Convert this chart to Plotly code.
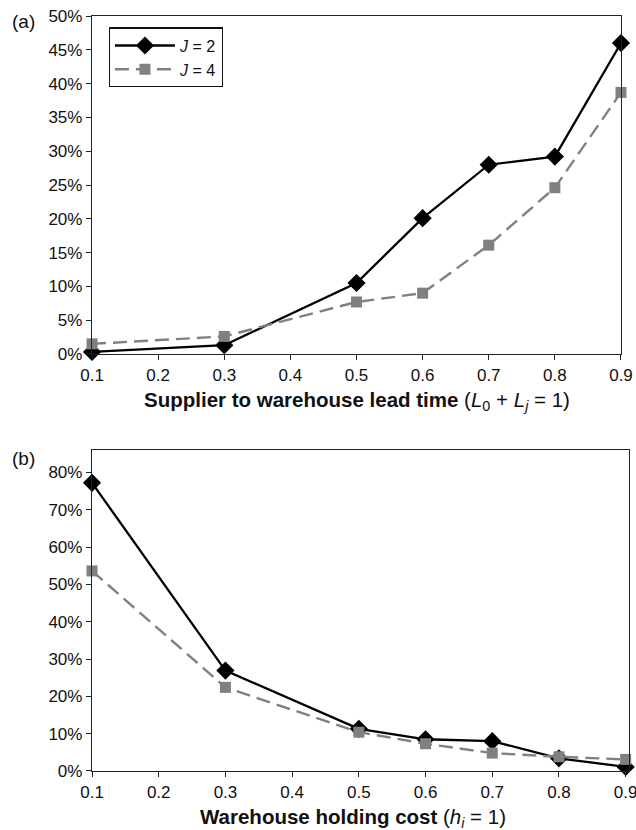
import plotly.graph_objects as go

x_vals = [0.1, 0.3, 0.5, 0.6, 0.7, 0.8, 0.9]

# Panel (a): Supplier to warehouse lead time
a_j2 = [0.3, 1.3, 10.5, 20.1, 28.0, 29.2, 46.0]
a_j4 = [1.5, 2.6, 7.7, 9.0, 16.1, 24.6, 38.7]

# Panel (b): Warehouse holding cost
b_j2 = [77.2, 26.9, 11.3, 8.5, 8.0, 3.4, 1.1]
b_j4 = [53.6, 22.4, 10.4, 7.3, 4.8, 3.8, 3.1]

x_ticks = [0.1, 0.2, 0.3, 0.4, 0.5, 0.6, 0.7, 0.8, 0.9]
a_yticks = [0, 5, 10, 15, 20, 25, 30, 35, 40, 45, 50]
b_yticks = [0, 10, 20, 30, 40, 50, 60, 70, 80]

FONT = "Liberation Sans, Arial, Helvetica, sans-serif"
BLACK = "#000000"
GRAY = "#808080"
TXT = "#111111"

fig = go.Figure()

def add_pair(xa, ya, j2, j4, show):
    fig.add_trace(go.Scatter(
        x=x_vals, y=j2, xaxis=xa, yaxis=ya, mode="lines+markers",
        name="<i>J</i> = 2", showlegend=show, cliponaxis=False,
        line=dict(color=BLACK, width=2.3),
        marker=dict(symbol="diamond", size=14, color=BLACK)))
    fig.add_trace(go.Scatter(
        x=x_vals, y=j4, xaxis=xa, yaxis=ya, mode="lines+markers",
        name="<i>J</i> = 4", showlegend=show, cliponaxis=False,
        line=dict(color=GRAY, width=2.4, dash="14px,7px"),
        marker=dict(symbol="square", size=11, color=GRAY)))

add_pair("x", "y", a_j2, a_j4, True)
add_pair("x2", "y2", b_j2, b_j4, False)

axis_common = dict(
    showline=True, linecolor="#222222", linewidth=1.4, mirror=True,
    ticks="outside", ticklen=5, tickcolor="#222222", tickwidth=1.2,
    showgrid=False, zeroline=False, automargin=False,
    ticklabeloverflow="allow",
    tickfont=dict(family=FONT, size=17, color=TXT),
)

fig.update_layout(
    width=636, height=830,
    margin=dict(l=0, r=0, t=0, b=0, autoexpand=False),
    paper_bgcolor="white", plot_bgcolor="white",
    font=dict(family=FONT, color=TXT),
    xaxis=dict(axis_common, domain=[0.1447, 0.9764], range=[0.1, 0.9],
               tickvals=x_ticks, ticktext=[f"{v:.1f}" for v in x_ticks],
               anchor="y"),
    yaxis=dict(axis_common, domain=[0.5735, 0.9807], range=[0, 50],
               tickvals=a_yticks, ticktext=[f"{v}%" for v in a_yticks], anchor="x"),
    xaxis2=dict(axis_common, domain=[0.1447, 0.989], range=[0.1, 0.905],
                tickvals=x_ticks, ticktext=[f"{v:.1f}" for v in x_ticks],
                anchor="y2"),
    yaxis2=dict(axis_common, domain=[0.0711, 0.4578], range=[0, 86],
                tickvals=b_yticks, ticktext=[f"{v}%" for v in b_yticks], anchor="x2"),
    legend=dict(x=0.171, y=0.967, xanchor="left", yanchor="top",
                bordercolor="#111111", borderwidth=1.2, bgcolor="white",
                font=dict(family=FONT, size=16, color=TXT),
                itemwidth=60, tracegroupgap=0),
    annotations=[
        dict(text="(a)", x=0.016, y=0.9735, xref="paper", yref="paper",
             xanchor="left", yanchor="middle", showarrow=False,
             font=dict(family=FONT, size=19, color=TXT)),
        dict(text="(b)", x=0.016, y=0.447, xref="paper", yref="paper",
             xanchor="left", yanchor="middle", showarrow=False,
             font=dict(family=FONT, size=19, color=TXT)),
        dict(text="<b>Supplier to warehouse lead time</b> (<i>L</i><sub>0</sub> + <i>L</i><sub><i>j</i></sub> = 1)",
             x=0.561, y=0.517, xref="paper", yref="paper",
             xanchor="center", yanchor="middle", showarrow=False,
             font=dict(family=FONT, size=20.5, color=TXT)),
        dict(text="<b>Warehouse holding cost</b> (<i>h</i><sub><i>i</i></sub> = 1)",
             x=0.555, y=0.0145, xref="paper", yref="paper",
             xanchor="center", yanchor="middle", showarrow=False,
             font=dict(family=FONT, size=20.5, color=TXT)),
    ],
)

fig.write_html("out.html")
